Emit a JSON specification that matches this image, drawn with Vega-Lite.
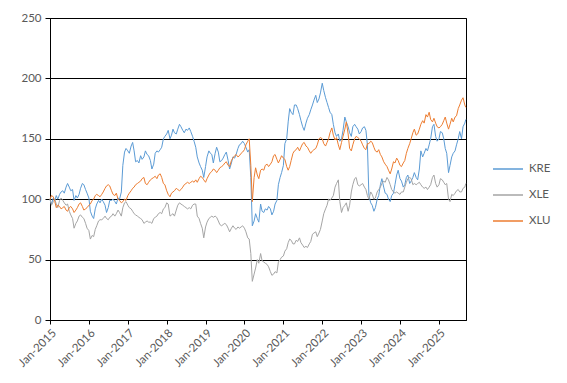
{
  "$schema": "https://vega.github.io/schema/vega-lite/v6.json",
  "width": 416,
  "height": 302,
  "autosize": {"type": "none"},
  "padding": {"left": 50, "top": 18, "right": 101, "bottom": 63},
  "config": {
    "font": "Lato",
    "view": {"stroke": "#000000", "strokeWidth": 1},
    "axis": {"labelFont": "Lato", "labelFontSize": 11.5, "labelColor": "#595959", "domainColor": "#000000", "tickColor": "#000000", "titleFont": "Lato"},
    "legend": {"labelFont": "Lato", "labelFontSize": 11.5, "labelColor": "#595959"}
  },
  "data": {"values": [
    {"date":"2015-01-01","KRE":100,"XLE":100,"XLU":100},{"date":"2015-01-15","KRE":96,"XLE":95,"XLU":103},
    {"date":"2015-02-01","KRE":101,"XLE":98,"XLU":102},{"date":"2015-02-15","KRE":99,"XLE":100,"XLU":98},
    {"date":"2015-03-01","KRE":103,"XLE":96,"XLU":93},{"date":"2015-03-15","KRE":100,"XLE":93,"XLU":95},
    {"date":"2015-04-01","KRE":104,"XLE":99,"XLU":94},{"date":"2015-04-15","KRE":106,"XLE":101,"XLU":92},
    {"date":"2015-05-01","KRE":107,"XLE":99,"XLU":93},{"date":"2015-05-15","KRE":105,"XLE":97,"XLU":94},
    {"date":"2015-06-01","KRE":110,"XLE":95,"XLU":91},{"date":"2015-06-15","KRE":113,"XLE":96,"XLU":90},
    {"date":"2015-07-01","KRE":110,"XLE":90,"XLU":93},{"date":"2015-07-15","KRE":107,"XLE":87,"XLU":94},
    {"date":"2015-08-01","KRE":108,"XLE":84,"XLU":92},{"date":"2015-08-15","KRE":99,"XLE":76,"XLU":89},
    {"date":"2015-09-01","KRE":103,"XLE":80,"XLU":91},{"date":"2015-09-15","KRE":101,"XLE":82,"XLU":93},
    {"date":"2015-10-01","KRE":104,"XLE":86,"XLU":96},{"date":"2015-10-15","KRE":109,"XLE":87,"XLU":97},
    {"date":"2015-11-01","KRE":113,"XLE":85,"XLU":94},{"date":"2015-11-15","KRE":112,"XLE":84,"XLU":91},
    {"date":"2015-12-01","KRE":108,"XLE":80,"XLU":92},{"date":"2015-12-15","KRE":105,"XLE":76,"XLU":93},
    {"date":"2016-01-01","KRE":101,"XLE":74,"XLU":95},{"date":"2016-01-15","KRE":90,"XLE":67,"XLU":96},
    {"date":"2016-02-01","KRE":86,"XLE":70,"XLU":99},{"date":"2016-02-15","KRE":84,"XLE":69,"XLU":100},
    {"date":"2016-03-01","KRE":92,"XLE":75,"XLU":103},{"date":"2016-03-15","KRE":96,"XLE":78,"XLU":104},
    {"date":"2016-04-01","KRE":99,"XLE":82,"XLU":103},{"date":"2016-04-15","KRE":97,"XLE":83,"XLU":102},
    {"date":"2016-05-01","KRE":100,"XLE":83,"XLU":104},{"date":"2016-05-15","KRE":98,"XLE":84,"XLU":106},
    {"date":"2016-06-01","KRE":95,"XLE":86,"XLU":109},{"date":"2016-06-15","KRE":89,"XLE":84,"XLU":111},
    {"date":"2016-07-01","KRE":93,"XLE":83,"XLU":112},{"date":"2016-07-15","KRE":99,"XLE":85,"XLU":111},
    {"date":"2016-08-01","KRE":99,"XLE":86,"XLU":107},{"date":"2016-08-15","KRE":100,"XLE":88,"XLU":104},
    {"date":"2016-09-01","KRE":98,"XLE":86,"XLU":103},{"date":"2016-09-15","KRE":96,"XLE":88,"XLU":105},
    {"date":"2016-10-01","KRE":101,"XLE":91,"XLU":100},{"date":"2016-10-15","KRE":100,"XLE":89,"XLU":99},
    {"date":"2016-11-01","KRE":106,"XLE":86,"XLU":97},{"date":"2016-11-15","KRE":128,"XLE":93,"XLU":98},
    {"date":"2016-12-01","KRE":139,"XLE":97,"XLU":100},{"date":"2016-12-15","KRE":142,"XLE":98,"XLU":99},
    {"date":"2017-01-01","KRE":140,"XLE":95,"XLU":103},{"date":"2017-01-15","KRE":138,"XLE":93,"XLU":105},
    {"date":"2017-02-01","KRE":144,"XLE":92,"XLU":107},{"date":"2017-02-15","KRE":147,"XLE":90,"XLU":109},
    {"date":"2017-03-01","KRE":140,"XLE":88,"XLU":110},{"date":"2017-03-15","KRE":131,"XLE":87,"XLU":112},
    {"date":"2017-04-01","KRE":132,"XLE":86,"XLU":113},{"date":"2017-04-15","KRE":130,"XLE":85,"XLU":114},
    {"date":"2017-05-01","KRE":136,"XLE":84,"XLU":115},{"date":"2017-05-15","KRE":133,"XLE":83,"XLU":117},
    {"date":"2017-06-01","KRE":135,"XLE":80,"XLU":118},{"date":"2017-06-15","KRE":140,"XLE":81,"XLU":113},
    {"date":"2017-07-01","KRE":137,"XLE":82,"XLU":112},{"date":"2017-07-15","KRE":136,"XLE":81,"XLU":114},
    {"date":"2017-08-01","KRE":132,"XLE":81,"XLU":116},{"date":"2017-08-15","KRE":125,"XLE":80,"XLU":117},
    {"date":"2017-09-01","KRE":129,"XLE":84,"XLU":118},{"date":"2017-09-15","KRE":138,"XLE":85,"XLU":119},
    {"date":"2017-10-01","KRE":140,"XLE":86,"XLU":117},{"date":"2017-10-15","KRE":139,"XLE":88,"XLU":120},
    {"date":"2017-11-01","KRE":141,"XLE":89,"XLU":121},{"date":"2017-11-15","KRE":143,"XLE":88,"XLU":118},
    {"date":"2017-12-01","KRE":150,"XLE":92,"XLU":113},{"date":"2017-12-15","KRE":152,"XLE":93,"XLU":112},
    {"date":"2018-01-01","KRE":154,"XLE":97,"XLU":107},{"date":"2018-01-15","KRE":157,"XLE":96,"XLU":104},
    {"date":"2018-02-01","KRE":150,"XLE":86,"XLU":102},{"date":"2018-02-15","KRE":153,"XLE":87,"XLU":105},
    {"date":"2018-03-01","KRE":158,"XLE":88,"XLU":106},{"date":"2018-03-15","KRE":155,"XLE":86,"XLU":107},
    {"date":"2018-04-01","KRE":154,"XLE":91,"XLU":109},{"date":"2018-04-15","KRE":158,"XLE":95,"XLU":108},
    {"date":"2018-05-01","KRE":162,"XLE":97,"XLU":107},{"date":"2018-05-15","KRE":160,"XLE":96,"XLU":108},
    {"date":"2018-06-01","KRE":157,"XLE":95,"XLU":110},{"date":"2018-06-15","KRE":155,"XLE":94,"XLU":112},
    {"date":"2018-07-01","KRE":158,"XLE":93,"XLU":113},{"date":"2018-07-15","KRE":157,"XLE":92,"XLU":114},
    {"date":"2018-08-01","KRE":159,"XLE":93,"XLU":113},{"date":"2018-08-15","KRE":156,"XLE":92,"XLU":114},
    {"date":"2018-09-01","KRE":152,"XLE":95,"XLU":115},{"date":"2018-09-15","KRE":148,"XLE":96,"XLU":114},
    {"date":"2018-10-01","KRE":143,"XLE":96,"XLU":116},{"date":"2018-10-15","KRE":135,"XLE":86,"XLU":114},
    {"date":"2018-11-01","KRE":130,"XLE":84,"XLU":117},{"date":"2018-11-15","KRE":127,"XLE":80,"XLU":119},
    {"date":"2018-12-01","KRE":124,"XLE":76,"XLU":118},{"date":"2018-12-15","KRE":118,"XLE":68,"XLU":116},
    {"date":"2019-01-01","KRE":127,"XLE":77,"XLU":114},{"date":"2019-01-15","KRE":135,"XLE":81,"XLU":117},
    {"date":"2019-02-01","KRE":140,"XLE":84,"XLU":120},{"date":"2019-02-15","KRE":138,"XLE":85,"XLU":122},
    {"date":"2019-03-01","KRE":137,"XLE":86,"XLU":123},{"date":"2019-03-15","KRE":130,"XLE":85,"XLU":125},
    {"date":"2019-04-01","KRE":138,"XLE":86,"XLU":124},{"date":"2019-04-15","KRE":143,"XLE":85,"XLU":122},
    {"date":"2019-05-01","KRE":139,"XLE":82,"XLU":124},{"date":"2019-05-15","KRE":131,"XLE":79,"XLU":126},
    {"date":"2019-06-01","KRE":132,"XLE":78,"XLU":127},{"date":"2019-06-15","KRE":134,"XLE":79,"XLU":128},
    {"date":"2019-07-01","KRE":137,"XLE":80,"XLU":130},{"date":"2019-07-15","KRE":139,"XLE":79,"XLU":131},
    {"date":"2019-08-01","KRE":132,"XLE":76,"XLU":128},{"date":"2019-08-15","KRE":125,"XLE":73,"XLU":127},
    {"date":"2019-09-01","KRE":130,"XLE":76,"XLU":132},{"date":"2019-09-15","KRE":135,"XLE":78,"XLU":134},
    {"date":"2019-10-01","KRE":134,"XLE":76,"XLU":136},{"date":"2019-10-15","KRE":137,"XLE":75,"XLU":137},
    {"date":"2019-11-01","KRE":142,"XLE":77,"XLU":135},{"date":"2019-11-15","KRE":145,"XLE":76,"XLU":136},
    {"date":"2019-12-01","KRE":146,"XLE":77,"XLU":138},{"date":"2019-12-15","KRE":148,"XLE":78,"XLU":139},
    {"date":"2020-01-01","KRE":146,"XLE":76,"XLU":141},{"date":"2020-01-15","KRE":143,"XLE":73,"XLU":145},
    {"date":"2020-02-01","KRE":139,"XLE":68,"XLU":148},{"date":"2020-02-15","KRE":141,"XLE":67,"XLU":150},
    {"date":"2020-03-01","KRE":118,"XLE":55,"XLU":128},{"date":"2020-03-15","KRE":78,"XLE":32,"XLU":98},
    {"date":"2020-04-01","KRE":82,"XLE":38,"XLU":118},{"date":"2020-04-15","KRE":88,"XLE":43,"XLU":126},
    {"date":"2020-05-01","KRE":84,"XLE":50,"XLU":120},{"date":"2020-05-15","KRE":81,"XLE":47,"XLU":117},
    {"date":"2020-06-01","KRE":96,"XLE":55,"XLU":124},{"date":"2020-06-15","KRE":90,"XLE":49,"XLU":125},
    {"date":"2020-07-01","KRE":89,"XLE":48,"XLU":124},{"date":"2020-07-15","KRE":92,"XLE":47,"XLU":128},
    {"date":"2020-08-01","KRE":91,"XLE":46,"XLU":129},{"date":"2020-08-15","KRE":94,"XLE":44,"XLU":127},
    {"date":"2020-09-01","KRE":92,"XLE":40,"XLU":129},{"date":"2020-09-15","KRE":87,"XLE":37,"XLU":131},
    {"date":"2020-10-01","KRE":90,"XLE":38,"XLU":136},{"date":"2020-10-15","KRE":96,"XLE":40,"XLU":137},
    {"date":"2020-11-01","KRE":99,"XLE":39,"XLU":133},{"date":"2020-11-15","KRE":112,"XLE":48,"XLU":130},
    {"date":"2020-12-01","KRE":118,"XLE":50,"XLU":133},{"date":"2020-12-15","KRE":122,"XLE":52,"XLU":136},
    {"date":"2021-01-01","KRE":128,"XLE":53,"XLU":134},{"date":"2021-01-15","KRE":146,"XLE":57,"XLU":133},
    {"date":"2021-02-01","KRE":150,"XLE":59,"XLU":127},{"date":"2021-02-15","KRE":164,"XLE":64,"XLU":124},
    {"date":"2021-03-01","KRE":175,"XLE":67,"XLU":127},{"date":"2021-03-15","KRE":172,"XLE":66,"XLU":132},
    {"date":"2021-04-01","KRE":170,"XLE":63,"XLU":138},{"date":"2021-04-15","KRE":178,"XLE":63,"XLU":140},
    {"date":"2021-05-01","KRE":178,"XLE":66,"XLU":141},{"date":"2021-05-15","KRE":175,"XLE":65,"XLU":143},
    {"date":"2021-06-01","KRE":170,"XLE":68,"XLU":140},{"date":"2021-06-15","KRE":165,"XLE":64,"XLU":143},
    {"date":"2021-07-01","KRE":160,"XLE":62,"XLU":146},{"date":"2021-07-15","KRE":157,"XLE":60,"XLU":147},
    {"date":"2021-08-01","KRE":163,"XLE":61,"XLU":144},{"date":"2021-08-15","KRE":167,"XLE":60,"XLU":143},
    {"date":"2021-09-01","KRE":170,"XLE":63,"XLU":140},{"date":"2021-09-15","KRE":174,"XLE":65,"XLU":138},
    {"date":"2021-10-01","KRE":178,"XLE":71,"XLU":140},{"date":"2021-10-15","KRE":182,"XLE":72,"XLU":141},
    {"date":"2021-11-01","KRE":186,"XLE":73,"XLU":142},{"date":"2021-11-15","KRE":180,"XLE":69,"XLU":145},
    {"date":"2021-12-01","KRE":183,"XLE":72,"XLU":150},{"date":"2021-12-15","KRE":188,"XLE":75,"XLU":151},
    {"date":"2022-01-01","KRE":196,"XLE":82,"XLU":150},{"date":"2022-01-15","KRE":190,"XLE":88,"XLU":146},
    {"date":"2022-02-01","KRE":184,"XLE":92,"XLU":144},{"date":"2022-02-15","KRE":180,"XLE":95,"XLU":147},
    {"date":"2022-03-01","KRE":176,"XLE":100,"XLU":150},{"date":"2022-03-15","KRE":172,"XLE":99,"XLU":155},
    {"date":"2022-04-01","KRE":170,"XLE":101,"XLU":159},{"date":"2022-04-15","KRE":162,"XLE":103,"XLU":153},
    {"date":"2022-05-01","KRE":155,"XLE":110,"XLU":149},{"date":"2022-05-15","KRE":152,"XLE":113,"XLU":151},
    {"date":"2022-06-01","KRE":154,"XLE":116,"XLU":145},{"date":"2022-06-15","KRE":148,"XLE":98,"XLU":141},
    {"date":"2022-07-01","KRE":150,"XLE":89,"XLU":147},{"date":"2022-07-15","KRE":157,"XLE":93,"XLU":152},
    {"date":"2022-08-01","KRE":168,"XLE":95,"XLU":158},{"date":"2022-08-15","KRE":164,"XLE":97,"XLU":164},
    {"date":"2022-09-01","KRE":160,"XLE":90,"XLU":154},{"date":"2022-09-15","KRE":155,"XLE":95,"XLU":142},
    {"date":"2022-10-01","KRE":152,"XLE":106,"XLU":140},{"date":"2022-10-15","KRE":160,"XLE":112,"XLU":145},
    {"date":"2022-11-01","KRE":162,"XLE":117,"XLU":150},{"date":"2022-11-15","KRE":160,"XLE":118,"XLU":152},
    {"date":"2022-12-01","KRE":158,"XLE":112,"XLU":151},{"date":"2022-12-15","KRE":154,"XLE":111,"XLU":150},
    {"date":"2023-01-01","KRE":156,"XLE":112,"XLU":148},{"date":"2023-01-15","KRE":159,"XLE":113,"XLU":145},
    {"date":"2023-02-01","KRE":160,"XLE":110,"XLU":142},{"date":"2023-02-15","KRE":157,"XLE":108,"XLU":141},
    {"date":"2023-03-01","KRE":145,"XLE":103,"XLU":146},{"date":"2023-03-15","KRE":103,"XLE":100,"XLU":146},
    {"date":"2023-04-01","KRE":97,"XLE":106,"XLU":148},{"date":"2023-04-15","KRE":95,"XLE":104,"XLU":147},
    {"date":"2023-05-01","KRE":90,"XLE":100,"XLU":143},{"date":"2023-05-15","KRE":93,"XLE":101,"XLU":140},
    {"date":"2023-06-01","KRE":100,"XLE":106,"XLU":139},{"date":"2023-06-15","KRE":103,"XLE":108,"XLU":141},
    {"date":"2023-07-01","KRE":112,"XLE":110,"XLU":137},{"date":"2023-07-15","KRE":117,"XLE":113,"XLU":135},
    {"date":"2023-08-01","KRE":110,"XLE":115,"XLU":131},{"date":"2023-08-15","KRE":105,"XLE":114,"XLU":129},
    {"date":"2023-09-01","KRE":104,"XLE":118,"XLU":127},{"date":"2023-09-15","KRE":100,"XLE":116,"XLU":124},
    {"date":"2023-10-01","KRE":98,"XLE":112,"XLU":121},{"date":"2023-10-15","KRE":103,"XLE":108,"XLU":125},
    {"date":"2023-11-01","KRE":105,"XLE":106,"XLU":131},{"date":"2023-11-15","KRE":112,"XLE":105,"XLU":130},
    {"date":"2023-12-01","KRE":120,"XLE":106,"XLU":134},{"date":"2023-12-15","KRE":124,"XLE":105,"XLU":132},
    {"date":"2024-01-01","KRE":117,"XLE":104,"XLU":128},{"date":"2024-01-15","KRE":115,"XLE":106,"XLU":127},
    {"date":"2024-02-01","KRE":110,"XLE":106,"XLU":130},{"date":"2024-02-15","KRE":112,"XLE":110,"XLU":132},
    {"date":"2024-03-01","KRE":118,"XLE":114,"XLU":138},{"date":"2024-03-15","KRE":120,"XLE":117,"XLU":142},
    {"date":"2024-04-01","KRE":113,"XLE":118,"XLU":146},{"date":"2024-04-15","KRE":115,"XLE":117,"XLU":150},
    {"date":"2024-05-01","KRE":118,"XLE":112,"XLU":155},{"date":"2024-05-15","KRE":122,"XLE":113,"XLU":158},
    {"date":"2024-06-01","KRE":118,"XLE":112,"XLU":153},{"date":"2024-06-15","KRE":116,"XLE":113,"XLU":154},
    {"date":"2024-07-01","KRE":125,"XLE":114,"XLU":158},{"date":"2024-07-15","KRE":140,"XLE":112,"XLU":162},
    {"date":"2024-08-01","KRE":135,"XLE":110,"XLU":165},{"date":"2024-08-15","KRE":138,"XLE":109,"XLU":163},
    {"date":"2024-09-01","KRE":142,"XLE":110,"XLU":170},{"date":"2024-09-15","KRE":140,"XLE":108,"XLU":168},
    {"date":"2024-10-01","KRE":145,"XLE":110,"XLU":172},{"date":"2024-10-15","KRE":150,"XLE":112,"XLU":166},
    {"date":"2024-11-01","KRE":160,"XLE":118,"XLU":164},{"date":"2024-11-15","KRE":162,"XLE":120,"XLU":167},
    {"date":"2024-12-01","KRE":152,"XLE":113,"XLU":163},{"date":"2024-12-15","KRE":148,"XLE":110,"XLU":160},
    {"date":"2025-01-01","KRE":150,"XLE":112,"XLU":159},{"date":"2025-01-15","KRE":156,"XLE":117,"XLU":160},
    {"date":"2025-02-01","KRE":155,"XLE":116,"XLU":162},{"date":"2025-02-15","KRE":150,"XLE":114,"XLU":165},
    {"date":"2025-03-01","KRE":142,"XLE":112,"XLU":168},{"date":"2025-03-15","KRE":138,"XLE":113,"XLU":163},
    {"date":"2025-04-01","KRE":122,"XLE":100,"XLU":158},{"date":"2025-04-15","KRE":128,"XLE":98,"XLU":162},
    {"date":"2025-05-01","KRE":135,"XLE":104,"XLU":167},{"date":"2025-05-15","KRE":138,"XLE":103,"XLU":164},
    {"date":"2025-06-01","KRE":140,"XLE":105,"XLU":168},{"date":"2025-06-15","KRE":145,"XLE":107,"XLU":169},
    {"date":"2025-07-01","KRE":150,"XLE":108,"XLU":175},{"date":"2025-07-15","KRE":156,"XLE":106,"XLU":178},
    {"date":"2025-08-01","KRE":150,"XLE":106,"XLU":182},{"date":"2025-08-15","KRE":160,"XLE":109,"XLU":184},
    {"date":"2025-09-01","KRE":163,"XLE":110,"XLU":178},{"date":"2025-09-10","KRE":166,"XLE":113,"XLU":176}
  ]},
  "transform": [{"fold": ["KRE", "XLE", "XLU"], "as": ["series", "value"]}],
  "mark": {"type": "line", "strokeWidth": 1, "interpolate": "linear"},
  "encoding": {
    "x": {
      "field": "date", "type": "temporal",
      "scale": {"domain": [{"year": 2015, "month": 1, "date": 1}, {"year": 2025, "month": 9, "date": 12}]},
      "axis": {"title": null, "format": "%b-%Y", "tickCount": {"interval": "year", "step": 1}, "labelAngle": -45, "labelAlign": "right", "labelBaseline": "top", "grid": false, "tickSize": 4, "labelPadding": 3, "labelFlush": false, "labelOverlap": false, "labelBound": false}
    },
    "y": {
      "field": "value", "type": "quantitative",
      "scale": {"domain": [0, 250], "nice": false},
      "axis": {"title": null, "values": [0, 50, 100, 150, 200, 250], "grid": true, "gridColor": "#000000", "gridOpacity": 1, "tickSize": 5, "labelPadding": 4}
    },
    "color": {
      "field": "series", "type": "nominal",
      "scale": {"domain": ["KRE", "XLE", "XLU"], "range": ["#5B9BD5", "#A5A5A5", "#ED7D31"]},
      "legend": {"title": null, "orient": "none", "legendX": 442, "legendY": 135, "symbolType": "stroke", "symbolSize": 900, "symbolStrokeWidth": 1.5, "rowPadding": 4, "labelOffset": 5}
    }
  }
}
